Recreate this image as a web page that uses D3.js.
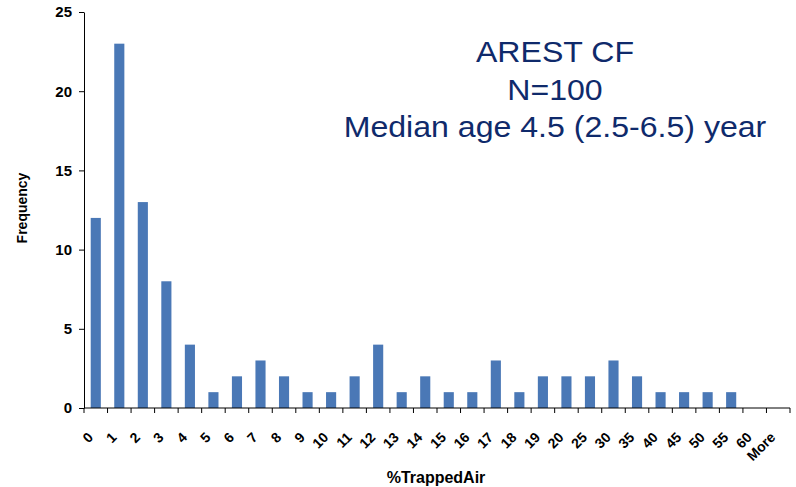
<!DOCTYPE html>
<html>
<head>
<meta charset="utf-8">
<script src="https://cdn.jsdelivr.net/npm/d3@7"></script>
<style>
  body { margin: 0; background: #fff; }
  svg text { font-family: "Liberation Sans", Arial, sans-serif; }
</style>
</head>
<body>
<div id="chart"></div>
<script>
// categories (% trapped air bins) and counts
var categories = ["0","1","2","3","4","5","6","7","8","9","10","11","12","13","14","15","16","17","18","19",
                  "20","25","30","35","40","45","50","55","60","More"];
var frequency = [12,23,13,8,4,1,2,3,2,1,1,2,4,1,2,1,1,3,1,2,2,2,3,2,1,1,1,1,0,0];
var yTicks = [0,5,10,15,20,25];
var noteLines = ["AREST CF", "N=100", "Median age 4.5 (2.5-6.5) year"];

var W = 796, H = 487;
var margin = { top: 12, right: 6, bottom: 79, left: 84 },
    width = W - margin.left - margin.right,
    height = H - margin.top - margin.bottom;

var svg = d3.select("#chart").append("svg")
    .attr("width", W)
    .attr("height", H);

var g = svg.append("g")
    .attr("transform", "translate(" + margin.left + "," + margin.top + ")");

var x = d3.scaleBand().domain(categories).range([0, width]).paddingInner(0.57).paddingOuter(0.285);
var xEdge = d3.scaleLinear().domain([0, categories.length]).range([0, width]);
var y = d3.scaleLinear().domain([0, 25]).range([height, 0]);

var data = categories.map(function (c, i) { return { cat: c, val: frequency[i] }; });

// bars
g.selectAll(".bar")
    .data(data)
    .enter().append("rect")
    .attr("class", "bar")
    .attr("x", function (d) { return x(d.cat); })
    .attr("width", x.bandwidth())
    .attr("y", function (d) { return y(d.val); })
    .attr("height", function (d) { return height - y(d.val); })
    .style("fill", "#4a78b6");

// y axis
var yAxis = g.append("g")
    .call(d3.axisLeft(y).tickValues(yTicks).tickSize(5).tickSizeOuter(0));
yAxis.select(".domain").attr("stroke", "#000");
yAxis.selectAll("text")
    .attr("x", -12)
    .style("font-size", "15px")
    .style("font-weight", "bold")
    .style("fill", "#000");

// x axis: ticks on category edges
var xAxis = g.append("g")
    .attr("transform", "translate(0," + height + ")");
xAxis.append("line")
    .attr("x1", 0).attr("x2", width)
    .attr("stroke", "#000");
xAxis.selectAll(".edge")
    .data(d3.range(categories.length + 1))
    .enter().append("line")
    .attr("class", "edge")
    .attr("x1", function (i) { return xEdge(i); })
    .attr("x2", function (i) { return xEdge(i); })
    .attr("y1", 0).attr("y2", 5)
    .attr("stroke", "#000");
xAxis.selectAll(".lab")
    .data(categories)
    .enter().append("text")
    .attr("class", "lab")
    .attr("transform", function (c) {
        return "translate(" + (x(c) + x.bandwidth() / 2 - 9) + ",23) rotate(-45)";
    })
    .attr("text-anchor", "end")
    .attr("dy", "0.72em")
    .style("font-size", "14px")
    .style("font-weight", "bold")
    .text(function (c) { return c; });

// axis titles
svg.append("text")
    .attr("x", 436).attr("y", 483)
    .attr("text-anchor", "middle")
    .style("font-size", "16px")
    .style("font-weight", "bold")
    .text("%TrappedAir");

svg.append("text")
    .attr("transform", "translate(27,208) rotate(-90)")
    .attr("text-anchor", "middle")
    .style("font-size", "14px")
    .style("font-weight", "bold")
    .text("Frequency");

// annotation
svg.append("g").selectAll("text")
    .data(noteLines)
    .enter().append("text")
    .attr("transform", function (d, i) {
        return "translate(555," + (62 + i * 37.5) + ") scale(1.07,1)";
    })
    .attr("text-anchor", "middle")
    .style("font-size", "30px")
    .style("fill", "#0f2a6b")
    .text(function (d) { return d; });
</script>
</body>
</html>
